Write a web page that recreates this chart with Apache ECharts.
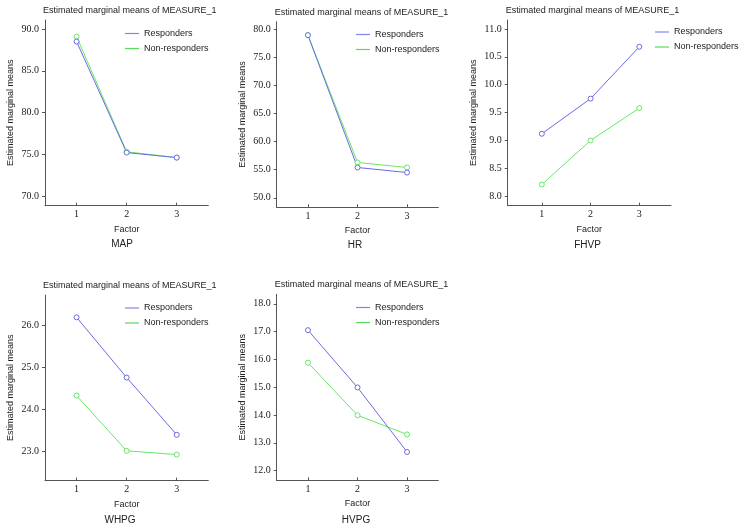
<!DOCTYPE html>
<html>
<head>
<meta charset="utf-8">
<script src="https://cdn.jsdelivr.net/npm/echarts@6/dist/echarts.min.js"></script>
<style>html,body{margin:0;padding:0;background:#fff}#c{width:744px;height:530px}</style>
</head>
<body>
<div id="c"></div>
<script>
// ---- data ----
const factors = [1, 2, 3];
const seriesNames = ['Responders', 'Non-responders'];
const panelNames = ['MAP', 'HR', 'FHVP', 'WHPG', 'HVPG'];
const chartTitle = 'Estimated marginal means of MEASURE_1';
const yName = 'Estimated marginal means';
const xName = 'Factor';

const mapResp = [88.5, 75.2, 74.6];
const mapNon  = [89.1, 75.3, 74.6];
const hrResp  = [79.0, 55.4, 54.5];
const hrNon   = [79.0, 56.3, 55.4];
const fhvpResp = [9.12, 9.75, 10.68];
const fhvpNon  = [8.21, 9.00, 9.58];
const whpgResp = [26.18, 24.75, 23.39];
const whpgNon  = [24.32, 23.01, 22.92];
const hvpgResp = [17.05, 14.99, 12.67];
const hvpgNon  = [15.88, 13.99, 13.30];

const mapTicks  = [70, 75, 80, 85, 90];
const hrTicks   = [50, 55, 60, 65, 70, 75, 80];
const fhvpTicks = [8.0, 8.5, 9.0, 9.5, 10.0, 10.5, 11.0];
const whpgTicks = [23, 24, 25, 26];
const hvpgTicks = [12, 13, 14, 15, 16, 17, 18];

// ---- layout / style ----
const respColor = '#6b6be3';
const nonColor = '#66e866';
const txt = '#222';
const axisColor = '#555';
const sans = 'Liberation Sans, Arial, sans-serif';
const serif = 'Liberation Serif, Times New Roman, serif';

const panels = [
  {resp: mapResp, non: mapNon, ticks: mapTicks, grid: {left: 45, top: 20, width: 163.3, height: 185.7}, xr: [0.37, 3.63], yr: [68.84, 91.08], leg: {left: 125, top: 27.5}, cap: [122, 245]},
  {resp: hrResp, non: hrNon, ticks: hrTicks, grid: {left: 276.7, top: 21.7, width: 161.6, height: 185.6}, xr: [0.37, 3.63], yr: [48.3, 81.4], leg: {left: 356, top: 28.5}, cap: [355, 246.5]},
  {resp: fhvpResp, non: fhvpNon, ticks: fhvpTicks, grid: {left: 507.7, top: 20, width: 163.3, height: 185.7}, xr: [0.30, 3.65], yr: [7.83, 11.16], leg: {left: 655, top: 26}, cap: [587.5, 246.5]},
  {resp: whpgResp, non: whpgNon, ticks: whpgTicks, grid: {left: 45, top: 295, width: 163.3, height: 185.7}, xr: [0.37, 3.63], yr: [22.3, 26.71], leg: {left: 125, top: 302}, cap: [120, 521.5]},
  {resp: hvpgResp, non: hvpgNon, ticks: hvpgTicks, grid: {left: 276.7, top: 294.3, width: 161.6, height: 186}, xr: [0.37, 3.63], yr: [11.65, 18.34], leg: {left: 356, top: 301.5}, cap: [356, 521]}
];

const grid = [], xAxis = [], yAxis = [], series = [], title = [], legend = [];
panels.forEach((p, i) => {
  grid.push(Object.assign({}, p.grid));
  xAxis.push({
    type: 'value', gridIndex: i, min: p.xr[0], max: p.xr[1],
    name: xName, nameLocation: 'middle', nameGap: 19,
    nameTextStyle: {fontFamily: sans, fontSize: 9, color: txt},
    axisLine: {show: true, lineStyle: {color: axisColor, width: 1}},
    axisTick: {show: true, inside: true, length: 3, customValues: factors, lineStyle: {color: axisColor}},
    axisLabel: {show: true, customValues: factors, margin: 4, fontFamily: serif, fontSize: 10, color: txt, formatter: v => String(Math.round(v))},
    splitLine: {show: false}
  });
  yAxis.push({
    type: 'value', gridIndex: i, min: p.yr[0], max: p.yr[1],
    name: yName, nameLocation: 'middle', nameGap: 30, nameRotate: 90,
    nameTextStyle: {fontFamily: sans, fontSize: 9, color: txt},
    axisLine: {show: true, lineStyle: {color: axisColor, width: 1}},
    axisTick: {show: true, inside: false, length: 3, customValues: p.ticks, lineStyle: {color: axisColor}},
    axisLabel: {show: true, customValues: p.ticks, margin: 6, fontFamily: serif, fontSize: 10, color: txt, formatter: v => v.toFixed(1)},
    splitLine: {show: false}
  });
  series.push({
    name: seriesNames[1], type: 'line', xAxisIndex: i, yAxisIndex: i,
    data: factors.map((f, k) => [f, p.non[k]]),
    symbol: 'circle', symbolSize: 5,
    lineStyle: {color: nonColor, width: 1}, itemStyle: {color: '#ffffff', borderColor: nonColor, borderWidth: 1},
    emphasis: {disabled: true}, animation: false
  });
  series.push({
    name: seriesNames[0], type: 'line', xAxisIndex: i, yAxisIndex: i,
    data: factors.map((f, k) => [f, p.resp[k]]),
    symbol: 'circle', symbolSize: 5,
    lineStyle: {color: respColor, width: 1}, itemStyle: {color: '#ffffff', borderColor: respColor, borderWidth: 1},
    emphasis: {disabled: true}, animation: false
  });
  title.push({
    text: chartTitle, left: p.grid.left - 2, top: p.grid.top - 14, padding: 0,
    textStyle: {fontFamily: sans, fontSize: 9, fontWeight: 'normal', color: txt}
  });
  title.push({
    text: panelNames[i], left: p.cap[0], top: p.cap[1] - 6, padding: 0, textAlign: 'center',
    textStyle: {fontFamily: sans, fontSize: 10, fontWeight: 'normal', color: txt}
  });
  legend.push({
    orient: 'vertical', left: p.leg.left, top: p.leg.top, padding: 0,
    itemWidth: 14, itemHeight: 1.2, itemGap: 3, icon: 'rect',
    selectedMode: false,
    textStyle: {fontFamily: sans, fontSize: 9, color: txt, lineHeight: 12},
    data: [
      {name: seriesNames[0], itemStyle: {color: '#8585ec', borderWidth: 0}},
      {name: seriesNames[1], itemStyle: {color: '#5ad85a', borderWidth: 0}}
    ]
  });
});

const chart = echarts.init(document.getElementById('c'), null, {renderer: 'canvas'});
chart.setOption({animation: false, backgroundColor: '#fff', title, legend, grid, xAxis, yAxis, series});
</script>
</body>
</html>
